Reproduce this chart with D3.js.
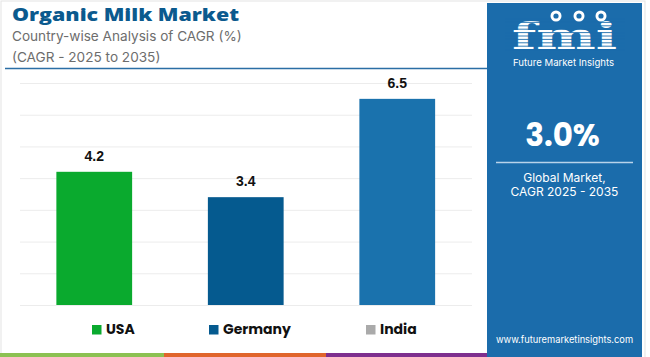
<!DOCTYPE html>
<html><head><meta charset="utf-8">
<script src="https://cdn.jsdelivr.net/npm/d3@7"></script>
<style>
html,body{margin:0;padding:0;background:#fff;}
svg{display:block;}
</style></head>
<body>
<svg id="c" width="650" height="357"></svg>
<script>
const categories = ["USA", "Germany", "India"];
const values = [4.2, 3.4, 6.5];
const barColors = ["#0aaa2e", "#055a8f", "#1a72ad"];
const legendColors = ["#0aaa2e", "#055a8f", "#aaaaaa"];
const yTicks = [0, 1, 2, 3, 4, 5, 6, 7];
const title = "Organic Milk Market";
const subtitle = ["Country-wise Analysis of CAGR (%)", "(CAGR - 2025 to 2035)"];
const panelValue = "3.0%";
const panelText = ["Global Market,", "CAGR 2025 - 2035"];
const stripColors = ["#8cc152", "#e0652c", "#7e2f8e"];
const stripStops = [0, 164, 326, 487];

const svg = d3.select("#c");

// frame
svg.append("rect").attr("x", 1).attr("y", 1).attr("width", 644).attr("height", 360)
  .attr("fill", "none").attr("stroke", "#e3e3e3").attr("stroke-width", 1);

// bottom strip
stripColors.forEach((c, i) => {
  svg.append("rect").attr("x", stripStops[i]).attr("y", 353)
    .attr("width", stripStops[i + 1] - stripStops[i]).attr("height", 4).attr("fill", c);
});

// title
svg.append("text").attr("x", 12).attr("y", 21).text(title)
  .attr("font-family", "Open Sans, Inter, sans-serif").attr("font-weight", 800)
  .attr("font-size", 17.5).attr("fill", "#0b5a8e")
  .attr("textLength", 227).attr("lengthAdjust", "spacingAndGlyphs");
subtitle.forEach((s, i) => {
  svg.append("text").attr("x", 12).attr("y", 41 + i * 21).text(s)
    .attr("font-family", "Inter, sans-serif").attr("font-size", 13.6)
    .attr("fill", "#6d6d6d");
});
svg.append("line").attr("x1", 5).attr("x2", 487).attr("y1", 68.5).attr("y2", 68.5)
  .attr("stroke", "#2b6ea5").attr("stroke-width", 1.5);

// chart
const y = d3.scaleLinear().domain([0, 7]).range([305, 83]);
const x = d3.scaleBand().domain(categories).range([18.5, 473])
  .paddingInner(0.5).paddingOuter(0.25);

const grid = svg.append("g").attr("transform", "translate(20,0)")
  .call(d3.axisLeft(y).tickValues(yTicks).tickSize(-452).tickFormat(""));
grid.select(".domain").remove();
grid.selectAll(".tick line").attr("stroke", "#ececec").attr("stroke-width", 1);

svg.selectAll("rect.bar").data(categories).enter().append("rect").attr("class", "bar")
  .attr("x", d => x(d)).attr("width", x.bandwidth())
  .attr("y", (d, i) => y(values[i])).attr("height", (d, i) => y(0) - y(values[i]))
  .attr("fill", (d, i) => barColors[i]);

svg.selectAll("text.val").data(categories).enter().append("text").attr("class", "val")
  .attr("x", d => x(d) + x.bandwidth() / 2).attr("y", (d, i) => y(values[i]) - 11)
  .attr("text-anchor", "middle").text((d, i) => values[i].toFixed(1))
  .attr("font-family", "Liberation Sans, Arial, sans-serif").attr("font-weight", 700)
  .attr("font-size", 14).attr("fill", "#111");

// legend
const legendX = [92, 209, 366];
categories.forEach((c, i) => {
  svg.append("rect").attr("x", legendX[i]).attr("y", 325).attr("width", 9.5).attr("height", 9.5)
    .attr("fill", legendColors[i]);
  svg.append("text").attr("x", legendX[i] + 14).attr("y", 334).text(c)
    .attr("font-family", "Poppins, Inter, sans-serif").attr("font-weight", 700)
    .attr("font-size", 14).attr("fill", "#111");
});

// right panel
svg.append("rect").attr("x", 487).attr("y", 3).attr("width", 155).attr("height", 354)
  .attr("fill", "#1b6cab");
const cx = 564.5;

// logo
const logo = svg.append("g");
logo.append("text").attr("x", 512).attr("y", 49).text("fmi")
  .attr("font-family", "DejaVu Serif, serif").attr("font-weight", 700)
  .attr("font-size", 37).attr("fill", "#fff")
  .attr("textLength", 105).attr("lengthAdjust", "spacingAndGlyphs");
d3.range(19, 50, 3.4).forEach(yy => {
  logo.append("line").attr("x1", 505).attr("x2", 625).attr("y1", yy).attr("y2", yy)
    .attr("stroke", "#1b6cab").attr("stroke-width", 0.9);
});
[[556, 16], [579, 16], [601, 16]].forEach(p => {
  logo.append("circle").attr("cx", p[0]).attr("cy", p[1]).attr("r", 5.5).attr("fill", "#fff");
  logo.append("circle").attr("cx", p[0]).attr("cy", p[1]).attr("r", 2.6).attr("fill", "#1b6cab");
});
logo.append("text").attr("x", cx - 1).attr("y", 66).attr("text-anchor", "middle")
  .text("Future Market Insights")
  .attr("font-family", "Inter, sans-serif").attr("font-size", 9.6).attr("fill", "#fff");

svg.append("text").attr("x", cx - 2).attr("y", 146).attr("text-anchor", "middle").text(panelValue)
  .attr("font-family", "Poppins, Inter, sans-serif").attr("font-weight", 700)
  .attr("font-size", 31).attr("fill", "#fff");
svg.append("line").attr("x1", 496).attr("x2", 633).attr("y1", 162.5).attr("y2", 162.5)
  .attr("stroke", "#b9d3ea").attr("stroke-width", 1.5);
panelText.forEach((t, i) => {
  svg.append("text").attr("x", cx).attr("y", 182 + i * 14).attr("text-anchor", "middle").text(t)
    .attr("font-family", "Inter, sans-serif").attr("font-size", 12).attr("fill", "#fff");
});
svg.append("text").attr("x", cx).attr("y", 343).attr("text-anchor", "middle")
  .text("www.futuremarketinsights.com")
  .attr("font-family", "Inter, sans-serif").attr("font-size", 9.3).attr("fill", "#fff");
</script>
</body></html>
